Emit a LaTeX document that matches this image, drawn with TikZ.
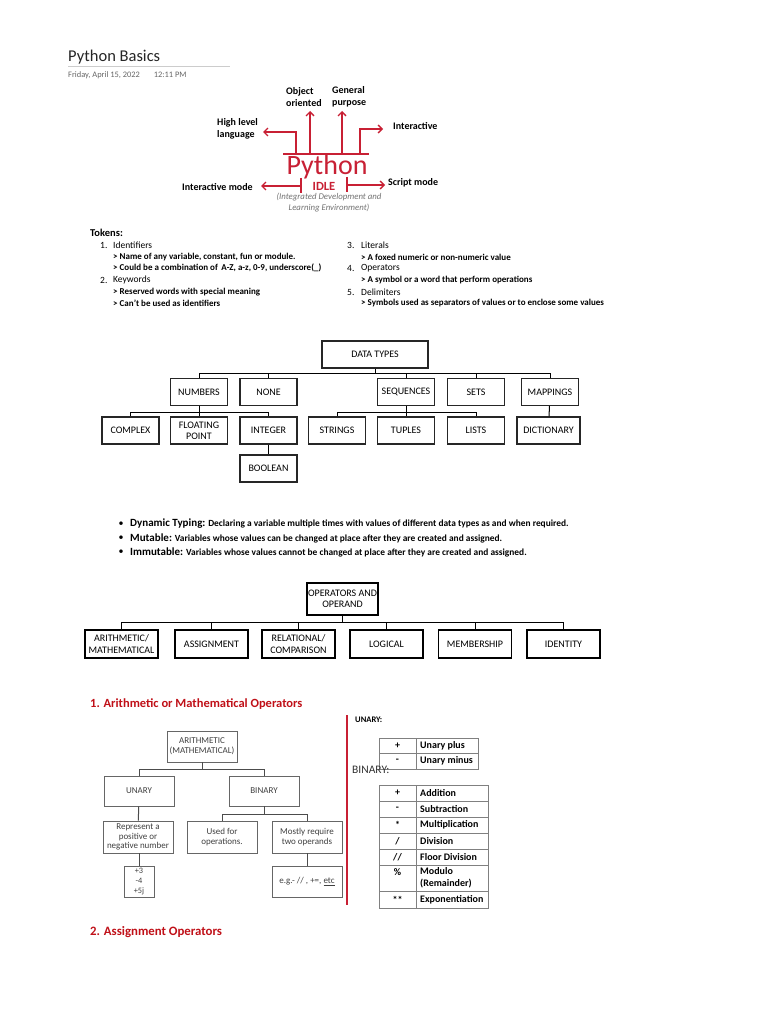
\documentclass[tikz,border=0pt]{standalone}
\usepackage{fontspec}
\setmainfont{Carlito}
\usepackage{tikz}
\usetikzlibrary{arrows.meta,positioning,calc}
\definecolor{pyred}{RGB}{200,32,52}
\definecolor{hdred}{RGB}{192,16,24}

\begin{document}
\begin{tikzpicture}[x=1pt,y=-1pt,
  dtbox/.style={draw=black!85,line width=1.1pt,minimum width=57pt,minimum height=27pt,inner sep=1pt,align=center,font=\fontsize{10}{11}\selectfont},
  opbox/.style={draw,line width=1.8pt,minimum width=73pt,minimum height=28pt,inner sep=0pt,align=center,font=\fontsize{10}{11.5}\selectfont},
  arbox/.style={draw=black!60,line width=0.9pt,minimum width=70pt,minimum height=31pt,inner sep=0pt,align=center,text=black!75,font=\fontsize{9}{9.8}\selectfont},
  link/.style={line width=1pt},
  pyarrow/.style={pyred,line width=1.3pt,-{Straight Barb[length=4pt,width=8pt]}},
  plabel/.style={font=\fontsize{10}{11.5}\selectfont\bfseries,align=left,inner sep=0},
  item/.style={font=\fontsize{9.5}{10}\selectfont,anchor=west,inner sep=0},
  sub/.style={font=\fontsize{9}{10}\selectfont\bfseries,anchor=west,inner sep=0},
  bul/.style={font=\fontsize{9.4}{10}\selectfont\bfseries,anchor=west,inner sep=0},
  tbl/.style={draw=black!50,line width=0.8pt},
  cell/.style={font=\fontsize{10}{12}\selectfont\bfseries,inner sep=0,align=left}]
\useasboundingbox[fill=white] (0,0) rectangle (768,1024);

\node[anchor=west,inner sep=0,font=\fontsize{16.5}{17}\selectfont,text=black!85] (title) at (68,57) {Python Basics};
\draw[black!20,line width=1pt] (68,67) -- (230,67);
\node[anchor=west,inner sep=0,font=\fontsize{8.4}{9}\selectfont,text=black!60] (date) at (68,75) {Friday, April 15, 2022\hspace{14pt}12:11 PM};

\node[anchor=base,inner sep=0,text=pyred,font=\fontsize{28}{30}\selectfont] (py) at (327,174.5) {Python};
\node[inner sep=0,text=pyred,font=\fontsize{12.5}{14}\selectfont\bfseries] (idle) at (324,186.5) {IDLE};
\node[inner sep=0,align=center,text=black!55,font=\fontsize{8.8}{11}\selectfont\itshape] (ide) at (329,203) {(Integrated Development and\\Learning Environment)};
\node[plabel,anchor=west] (oo) at (286,97) {Object\\oriented};
\node[plabel,anchor=west] (gp) at (332,97) {General\\purpose};
\node[plabel,anchor=west] (hl) at (217,129) {High level\\language};
\node[plabel,anchor=west] (ia) at (393,126) {Interactive};
\node[plabel,anchor=west] (im) at (182,187) {Interactive mode};
\node[plabel,anchor=west] (sm) at (388,183) {Script mode};
\coordinate (barL) at (283,154);
\coordinate (barR) at (369,154);
\coordinate (hlS) at (296,154); \coordinate (hlE) at (263,132);
\coordinate (ooS) at (310,154); \coordinate (ooE) at (310,111);
\coordinate (gpS) at (342,154); \coordinate (gpE) at (342,111);
\coordinate (iaS) at (360,154); \coordinate (iaE) at (383,129);
\coordinate (imS) at (301,186); \coordinate (imE) at (261,186);
\coordinate (smS) at (347,185); \coordinate (smE) at (385,185);
\draw[pyred,line width=1.2pt] (barL) -- (barR);
\draw[pyarrow] (hlS) |- (hlE);
\draw[pyarrow] (ooS) -- (ooE);
\draw[pyarrow] (gpS) -- (gpE);
\draw[pyarrow] (iaS) |- (iaE);
\draw[pyred,line width=1.2pt] (301,178) -- (301,193);
\draw[pyred,line width=1.2pt] (347,177) -- (347,192);
\draw[pyarrow] (imS) -- (imE);
\draw[pyarrow] (smS) -- (smE);

\node[anchor=west,inner sep=0,font=\fontsize{10.5}{11}\selectfont\bfseries] (tok) at (90,233) {Tokens:};
\node[item] (n1) at (100,245) {1.};
\node[item] (t1) at (113,245) {Identifiers};
\node[sub] at (113,257) {> Name of any variable, constant, fun or module.};
\node[sub] at (113,268) {> Could be a combination of \,A-Z, a-z, 0-9, underscore(\_)};
\node[item] (n2) at (100,280) {2.};
\node[item] (t2) at (113,280) {Keywords};
\node[sub] at (113,292) {> Reserved words with special meaning};
\node[sub] at (113,303) {> Can't be used as identifiers};
\node[item] (n3) at (347,245) {3.};
\node[item] (t3) at (361,245) {Literals};
\node[sub] at (361,257) {> A foxed numeric or non-numeric value};
\node[item] (n4) at (347,268) {4.};
\node[item] (t4) at (361,268) {Operators};
\node[sub] at (361,280) {> A symbol or a word that perform operations};
\node[item] (n5) at (347,292) {5.};
\node[item] (t5) at (361,292) {Delimiters};
\node[sub] at (361,303) {> Symbols used as separators of values or to enclose some values};

\node[dtbox,minimum width=106pt] (dt) at (375,354.5) {DATA TYPES};
\node[dtbox] (num) at (199,392) {NUMBERS};
\node[dtbox] (none) at (268.5,392) {NONE};
\node[dtbox] (seq) at (406,392) {SEQUENCES};
\node[dtbox] (sets) at (476,392) {SETS};
\node[dtbox] (map) at (550,392) {MAPPINGS};
\node[dtbox] (cpx) at (130.5,430.5) {COMPLEX};
\node[dtbox] (flt) at (199,430.5) {FLOATING\\POINT};
\node[dtbox] (int) at (268.5,430.5) {INTEGER};
\node[dtbox] (str) at (337,430.5) {STRINGS};
\node[dtbox] (tup) at (406,430.5) {TUPLES};
\node[dtbox] (lst) at (476,430.5) {LISTS};
\node[dtbox,minimum width=63pt] (dict) at (548.5,430.5) {DICTIONARY};
\node[dtbox] (bool) at (268.5,468.5) {BOOLEAN};
\coordinate (dtbus) at (375,373);
\coordinate (numbus) at (199,412);
\coordinate (seqbus) at (406,412);
\draw[link] (dt) -- (dtbus);
\draw[link] (num.north |- dtbus) -- (map.north |- dtbus);
\foreach \n in {num,none,seq,sets,map} \draw[link] (\n.north |- dtbus) -- (\n.north);
\draw[link] (num) -- (numbus);
\draw[link] (cpx.north |- numbus) -- (int.north |- numbus);
\foreach \n in {cpx,flt,int} \draw[link] (\n.north |- numbus) -- (\n.north);
\draw[link] (seq) -- (seqbus);
\draw[link] (str.north |- seqbus) -- (lst.north |- seqbus);
\foreach \n in {str,tup,lst} \draw[link] (\n.north |- seqbus) -- (\n.north);
\draw[link] (map) -- (dict);
\draw[link] (int) -- (bool);

\node[inner sep=0,font=\fontsize{10}{10}\selectfont] (b1) at (121,524) {\textbullet};
\node[inner sep=0,font=\fontsize{10}{10}\selectfont] (b2) at (121,538) {\textbullet};
\node[inner sep=0,font=\fontsize{10}{10}\selectfont] (b3) at (121,552) {\textbullet};
\node[bul] (d1) at (130,524) {{\fontsize{11}{11}\selectfont Dynamic Typing:} Declaring a variable multiple times with values of different data types as and when required.};
\node[bul] (d2) at (130,538) {{\fontsize{11}{11}\selectfont Mutable:} Variables whose values can be changed at place after they are created and assigned.};
\node[bul] (d3) at (130,552) {{\fontsize{11}{11}\selectfont Immutable:} Variables whose values cannot be changed at place after they are created and assigned.};

\node[opbox,minimum width=71pt,minimum height=32pt] (opr) at (342.5,599) {OPERATORS AND\\OPERAND};
\node[opbox] (ari) at (121.5,644) {ARITHMETIC/\\MATHEMATICAL};
\node[opbox] (asg) at (211.5,644) {ASSIGNMENT};
\node[opbox] (rel) at (298.5,644) {RELATIONAL/\\COMPARISON};
\node[opbox] (lgc) at (386.5,644) {LOGICAL};
\node[opbox] (mem) at (475,644) {MEMBERSHIP};
\node[opbox] (idn) at (563.5,644) {IDENTITY};
\coordinate (opbus) at (342.5,622);
\draw[link] (opr) -- (opbus);
\draw[link] (ari.north |- opbus) -- (idn.north |- opbus);
\foreach \n in {ari,asg,rel,lgc,mem,idn} \draw[link] (\n.north |- opbus) -- (\n.north);

\node[anchor=west,inner sep=0,text=hdred,font=\fontsize{12.5}{13}\selectfont\bfseries] (h1) at (90,704) {1. Arithmetic or Mathematical Operators};

\node[arbox] (arr) at (202,746.5) {ARITHMETIC\\(MATHEMATICAL)};
\node[arbox,minimum height=30pt] (una) at (139,791) {UNARY};
\node[arbox,minimum height=30pt] (bin) at (264,791) {BINARY};
\node[arbox,minimum height=32pt] (rep) at (138,837) {Represent a\\positive or\\negative number};
\node[arbox,minimum height=32pt] (use) at (222,837) {Used for\\operations.};
\node[arbox,minimum height=32pt] (mst) at (307,837) {Mostly require\\two operands};
\node[arbox,minimum width=30pt,font=\fontsize{8.3}{9.6}\selectfont] (val) at (139,881.5) {+3\\-4\\+5j};
\node[arbox] (egs) at (307,881.5) {e.g.- // , +=, \underline{etc}};
\coordinate (arbus) at (202,769);
\coordinate (binbus) at (264,814);
\draw[link,black!70] (arr) -- (arbus);
\draw[link,black!70] (una.north |- arbus) -- (bin.north |- arbus);
\foreach \n in {una,bin} \draw[link,black!70] (\n.north |- arbus) -- (\n.north);
\draw[link,black!70] (bin) -- (binbus);
\draw[link,black!70] (use.north |- binbus) -- (mst.north |- binbus);
\foreach \n in {use,mst} \draw[link,black!70] (\n.north |- binbus) -- (\n.north);
\draw[link,black!70] (una) -- (rep);
\draw[link,black!70] (rep.south -| val) -- (val);
\draw[link,black!70] (mst) -- (egs);

\draw[pyred,line width=1.3pt] (347,715) -- (347,905);

\node[anchor=west,inner sep=0,font=\fontsize{8.5}{9}\selectfont\bfseries] (uh) at (355,720) {UNARY:};
\draw[tbl] (379,738) rectangle (478,769);
\draw[tbl] (379,753.5) -- (478,753.5);
\draw[tbl] (416,738) -- (416,769);
\node[cell] (u1) at (397.5,745.5) {+};
\node[cell,anchor=west] (u1t) at (420,745.5) {Unary plus};
\node[cell] (u2) at (397.5,760.5) {-};
\node[cell,anchor=west] (u2t) at (420,760.5) {Unary minus};
\node[anchor=west,inner sep=0,text=black!80,font=\fontsize{11.5}{12}\selectfont] (bh) at (352,770) {BINARY:};

\draw[tbl] (379,785) rectangle (488,908);
\draw[tbl] (416,785) -- (416,908);
\foreach \y in {801,817,833,849,865,891} \draw[tbl] (379,\y) -- (488,\y);
\node[cell] (s1) at (397.5,793) {+};
\node[cell,anchor=west] (s1t) at (420,793) {Addition};
\node[cell] (s2) at (397.5,809) {-};
\node[cell,anchor=west] (s2t) at (420,809) {Subtraction};
\node[cell] (s3) at (397.5,825) {*};
\node[cell,anchor=west] (s3t) at (420,825) {Multiplication};
\node[cell] (s4) at (397.5,841) {/};
\node[cell,anchor=west] (s4t) at (420,841) {Division};
\node[cell] (s5) at (397.5,857) {//};
\node[cell,anchor=west] (s5t) at (420,857) {Floor Division};
\node[cell] (s6) at (397.5,872) {\%};
\node[cell,anchor=west] (s6t) at (420,878) {Modulo\\(Remainder)};
\node[cell] (s7) at (397.5,899.5) {**};
\node[cell,anchor=west] (s7t) at (420,899.5) {Exponentiation};

\node[anchor=west,inner sep=0,text=hdred,font=\fontsize{12.8}{13}\selectfont\bfseries] (h2) at (90,932) {2. Assignment Operators};
\end{tikzpicture}
\end{document}
